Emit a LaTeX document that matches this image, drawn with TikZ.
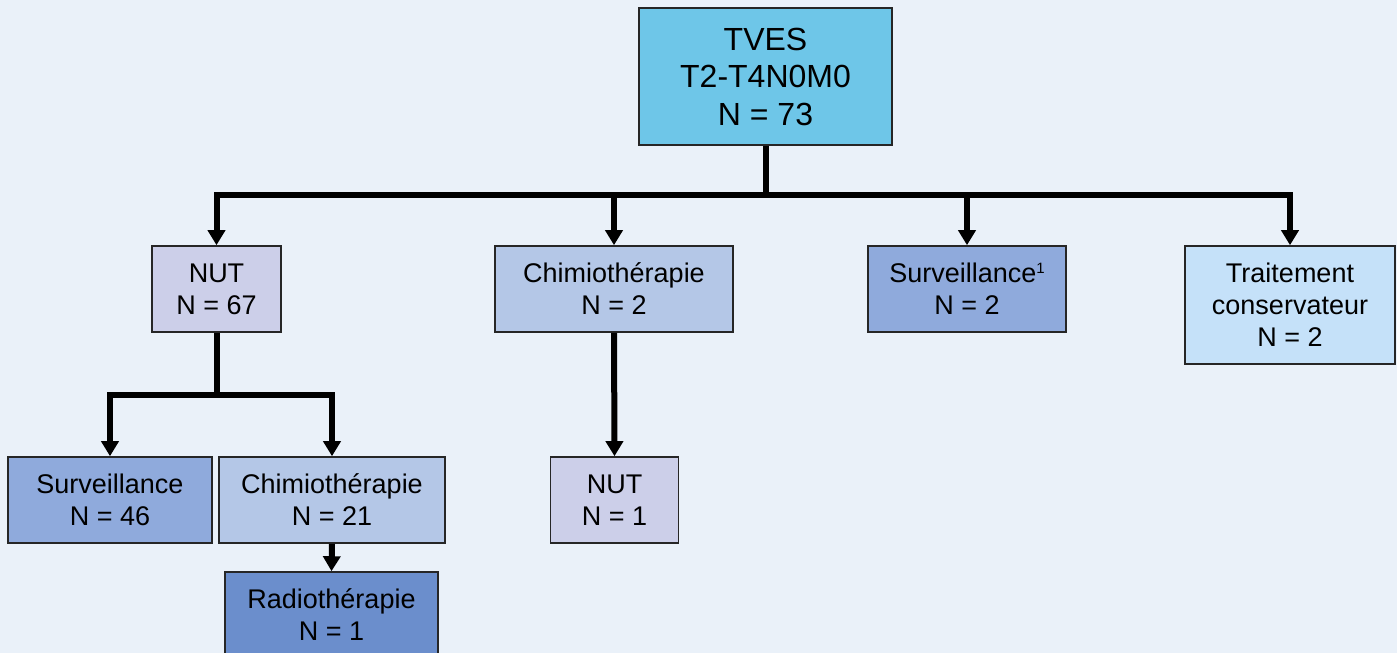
\documentclass[tikz,border=0pt]{standalone}
\usepackage{fontspec}
\setmainfont{Liberation Sans}
\usetikzlibrary{arrows.meta}
\definecolor{bgcol}{RGB}{234,241,249}
\definecolor{topcol}{RGB}{110,198,232}
\definecolor{nutcol}{RGB}{204,207,233}
\definecolor{chimcol}{RGB}{180,199,231}
\definecolor{survcol}{RGB}{143,170,220}
\definecolor{conscol}{RGB}{197,225,249}
\definecolor{radiocol}{RGB}{107,142,204}
\newcommand{\smallsup}[1]{\raisebox{9pt}{\fontsize{15}{15}\selectfont #1}}
\tikzset{
  box/.style={draw=black!85, line width=1.6pt, align=center, inner sep=0pt,
    font=\fontsize{27}{32}\selectfont},
  link/.style={line width=6pt, line join=miter},
  arrowlink/.style={link, -{Triangle[length=15pt,width=17pt]}},
}
\begin{document}
\begin{tikzpicture}[x=1pt,y=-1pt]
  \fill[bgcol] (0,0) rectangle (1397,653);
  \useasboundingbox (0,0) rectangle (1397,653);

  % root
  \node[box, fill=topcol, minimum width=253pt, minimum height=137pt,
        font=\fontsize{32}{37.5}\selectfont]
    (root) at (765.5,76.5) {TVES\\T2-T4N0M0\\N = 73};

  % first level
  \node[box, fill=nutcol, minimum width=129pt, minimum height=86pt]
    (nut) at (216.5,289) {NUT\\N = 67};
  \node[box, fill=chimcol, minimum width=238pt, minimum height=86pt]
    (chim) at (614,289) {Chimiothérapie\\N = 2};
  \node[box, fill=survcol, minimum width=198pt, minimum height=86pt]
    (surv) at (967,289) {Surveillance\smallsup{1}\\N = 2};
  \node[box, fill=conscol, minimum width=210pt, minimum height=118pt]
    (cons) at (1290,305) {Traitement\\conservateur\\N = 2};

  % second level
  \node[box, fill=survcol, minimum width=204pt, minimum height=86pt]
    (survb) at (110,500) {Surveillance\\N = 46};
  \node[box, fill=chimcol, minimum width=226pt, minimum height=86pt]
    (chimb) at (332,500) {Chimiothérapie\\N = 21};
  \node[box, fill=nutcol, minimum width=128pt, minimum height=86pt]
    (nutb) at (614.5,500) {NUT\\N = 1};

  % third level
  \node[box, fill=radiocol, minimum width=213pt, minimum height=86pt]
    (radio) at (331.5,615) {Radiothérapie\\N = 1};

  % connectors
  \coordinate (j1) at (765.5,195);
  \coordinate (j2) at (216.5,395);
  \draw[arrowlink] (root.south) -- (j1) -| (nut.north);
  \draw[arrowlink] (j1) -| (cons.north);
  \draw[arrowlink] (chim.north |- j1) -- (chim.north);
  \draw[arrowlink] (surv.north |- j1) -- (surv.north);

  \draw[arrowlink] (nut.south) -- (j2) -| (survb.north);
  \draw[arrowlink] (j2) -| (chimb.north);

  \draw[arrowlink] (chim.south) -- (nutb.north);
  \draw[arrowlink] (chimb.south) -- (radio.north);
\end{tikzpicture}
\end{document}
